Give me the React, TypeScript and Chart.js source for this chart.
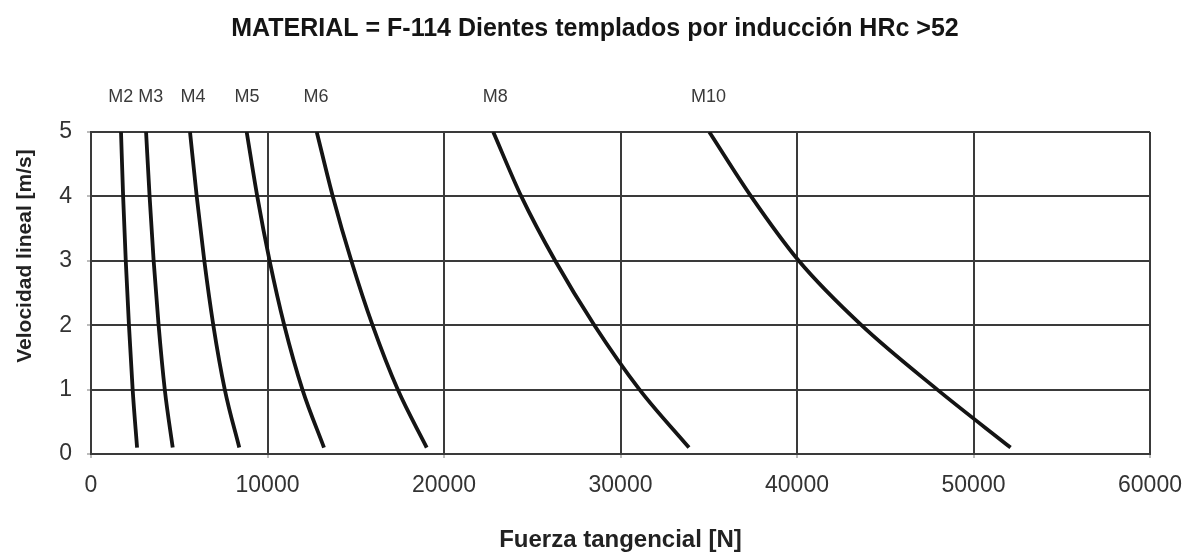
import { useEffect, useRef } from 'react';
import { Chart, registerables } from 'chart.js';

Chart.register(...registerables);

const FONT = '"Liberation Sans", Arial, Helvetica, sans-serif';

const chartTitle = 'MATERIAL = F-114 Dientes templados por inducción HRc >52';
const xAxisTitle = 'Fuerza tangencial [N]';
const yAxisTitle = 'Velocidad lineal [m/s]';

const moduleLabels = ['M2', 'M3', 'M4', 'M5', 'M6', 'M8', 'M10'];
// force value (N) above which each module label sits
const labelForce = [1690, 3390, 5780, 8840, 12750, 22900, 34980];
const velocity = [5, 4, 3, 2, 1, 0.1];
const forceM2 = [1700, 1820, 1970, 2150, 2360, 2610];
const forceM3 = [3120, 3320, 3550, 3830, 4180, 4630];
const forceM4 = [5610, 5990, 6420, 6930, 7580, 8400];
const forceM5 = [8820, 9420, 10120, 10950, 11980, 13200];
const forceM6 = [12790, 13700, 14750, 15950, 17380, 19020];
const forceM8 = [22790, 24380, 26300, 28520, 31080, 33880];
const forceM10 = [35030, 37400, 40100, 43650, 47950, 52100];

const xTicks = [0, 10000, 20000, 30000, 40000, 50000, 60000];
const yTicks = [0, 1, 2, 3, 4, 5];

export default function App() {
  const ref = useRef<HTMLCanvasElement>(null);

  useEffect(() => {
    document.body.style.margin = '0';
    const canvas = ref.current;
    if (!canvas) return;
    const seriesX = [forceM2, forceM3, forceM4, forceM5, forceM6, forceM8, forceM10];
    const datasets = moduleLabels.map((name, i) => ({
      label: name,
      data: seriesX[i].map((x, j) => ({ x, y: velocity[j] })),
      borderColor: '#141414',
      backgroundColor: '#141414',
      borderWidth: 3.8,
      pointRadius: 0,
      showLine: true,
      fill: false,
      cubicInterpolationMode: 'monotone' as const,
    }));

    const textPlugin = {
      id: 'texts',
      afterDraw(chart: any) {
        const ctx = chart.ctx;
        const xs = chart.scales.x;
        ctx.save();
        // main title
        ctx.fillStyle = '#151515';
        ctx.font = `bold 25px ${FONT}`;
        ctx.textAlign = 'center';
        ctx.textBaseline = 'alphabetic';
        ctx.fillText(chartTitle, 595, 36);
        // module labels above curves
        ctx.fillStyle = '#3a3a3a';
        ctx.font = `18px ${FONT}`;
        ctx.textBaseline = 'middle';
        moduleLabels.forEach((name, i) => {
          ctx.fillText(name, xs.getPixelForValue(labelForce[i]), 97);
        });
        // y-axis title
        ctx.translate(25, 256);
        ctx.rotate(-Math.PI / 2);
        ctx.fillStyle = '#222';
        ctx.font = `bold 21px ${FONT}`;
        ctx.textAlign = 'center';
        ctx.textBaseline = 'middle';
        ctx.fillText(yAxisTitle, 0, 0);
        ctx.restore();
      },
    };

    const chart = new Chart(canvas, {
      type: 'scatter',
      data: { datasets },
      options: {
        animation: false,
        responsive: false,
        layout: { padding: { top: 132, right: 42, left: 0, bottom: 0 } },
        plugins: {
          legend: { display: false },
          tooltip: { enabled: false },
        },
        scales: {
          x: {
            type: 'linear',
            min: 0,
            max: 60000,
            afterBuildTicks: (s: any) => {
              s.ticks = xTicks.map((v) => ({ value: v }));
            },
            ticks: {
              font: { family: FONT, size: 23 },
              color: '#333',
              padding: 14,
              maxRotation: 0,
              callback: (v: any) => String(v),
            },
            grid: { color: '#3a3a3a', lineWidth: 2, tickLength: 4, tickColor: '#bbb' },
            border: { color: '#3a3a3a', width: 2 },
            title: {
              display: true,
              text: xAxisTitle,
              font: { family: FONT, size: 24, weight: 'bold' },
              color: '#222',
              padding: { top: 0, bottom: 1 },
            },
            afterFit: (s: any) => {
              s.height = 102;
              s.paddingLeft = 0;
              s.paddingRight = 0;
            },
          },
          y: {
            type: 'linear',
            min: 0,
            max: 5,
            afterBuildTicks: (s: any) => {
              s.ticks = yTicks.map((v) => ({ value: v }));
            },
            ticks: {
              font: { family: FONT, size: 23 },
              color: '#333',
              padding: 15,
              callback: (v: any) => String(v),
            },
            grid: { color: '#3a3a3a', lineWidth: 2, tickLength: 4, tickColor: '#bbb' },
            border: { color: '#3a3a3a', width: 2 },
            afterFit: (s: any) => {
              s.width = 91;
              s.paddingTop = 0;
              s.paddingBottom = 0;
            },
          },
        },
      } as any,
      plugins: [textPlugin],
    });
    return () => chart.destroy();
  }, []);

  return (
    <div style={{ position: 'absolute', left: 0, top: 0, width: 1192, height: 556, background: '#fff' }}>
      <canvas ref={ref} width={1192} height={556} style={{ display: 'block' }} />
    </div>
  );
}
